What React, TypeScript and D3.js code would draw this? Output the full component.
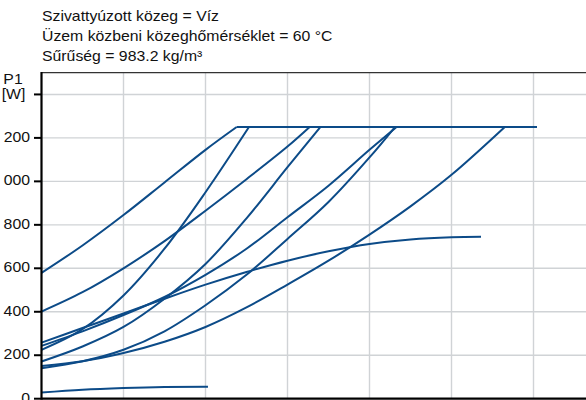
import React from "react";
import * as d3 from "d3";

// ---- chart values ----
const titleLines = [
  "Szivattyúzott közeg = Víz",
  "Üzem közbeni közeghőmérséklet = 60 °C",
  "Sűrűség = 983.2 kg/m³",
];
const yAxisName = "P1";
const yAxisUnit = "[W]";
const yTickValues = [0, 200, 400, 600, 800, 1000, 1200, 1400];
const yTickLabels = ["0", "200", "400", "600", "800", "1 000", "1 200", ""];
const xGridValues = [0, 1, 2, 3, 4, 5, 6, 7];

const maxPower = 1250;
const capEndQ = 6.04;

const qA = [0, 0.5, 1, 1.5, 2, 2.38];
const pA = [579, 705, 845, 995, 1145, 1250];
const qB = [0, 0.5, 1, 1.5, 2, 2.5, 3, 3.27];
const pB = [401, 490, 600, 725, 865, 1010, 1160, 1250];
const qC = [0, 0.5, 1, 1.5, 2, 2.53];
const pC = [225, 320, 475, 690, 950, 1250];
const qD = [0, 0.5, 1, 1.5, 2, 2.5, 3, 3.4];
const pD = [171, 240, 330, 460, 620, 830, 1065, 1250];
const qE = [0, 0.5, 1, 1.5, 2, 2.5, 3, 3.5, 4, 4.33];
const pE = [243, 310, 385, 468, 570, 690, 835, 980, 1145, 1250];
const qF = [0, 0.5, 1, 1.5, 2, 2.5, 3, 3.5, 4, 4.31];
const pF = [140, 172, 225, 310, 430, 570, 735, 905, 1110, 1250];
const qG = [0, 0.5, 1, 1.5, 2, 2.5, 3, 3.5, 4, 4.5, 5, 5.36];
const pG = [258, 325, 392, 460, 525, 583, 635, 678, 712, 733, 743, 745];
const qH = [0, 0.5, 1, 1.5, 2, 2.5, 3, 3.5, 4, 4.5, 5, 5.65];
const pH = [150, 172, 210, 262, 330, 420, 525, 635, 755, 885, 1030, 1250];
const qI = [0, 0.5, 1, 1.5, 2.03];
const pI = [28, 41, 49, 54, 55];

const curves = [
  [qA, pA], [qB, pB], [qC, pC], [qD, pD], [qE, pE],
  [qF, pF], [qG, pG], [qH, pH], [qI, pI],
];

// ---- layout ----
const W = 586;
const H = 400;
const plotLeft = 41.5;
const plotTop = 72.7;
const plotBottom = 398.7;
const unitPx = 82;
const curveColor = "#0c4b88";
const gridColor = "#d0d3d6";
const fontFamily = "'Liberation Sans', Arial, Helvetica, sans-serif";
const fontSize = 14;
const stretch = 1.13;

export default function App() {
  const x = d3.scaleLinear().domain([0, 7]).range([plotLeft, plotLeft + 7 * unitPx]);
  const y = d3.scaleLinear().domain([0, 1500]).range([plotBottom, plotTop]);

  const rise = d3
    .line<[number, number]>()
    .x((d) => x(d[0]))
    .y((d) => y(d[1]))
    .curve(d3.curveCatmullRom.alpha(0.5));
  const flat = d3
    .line<[number, number]>()
    .x((d) => x(d[0]))
    .y((d) => y(d[1]));

  const paths: React.ReactNode[] = [];
  curves.forEach(([qs, ps], i) => {
    const pts: [number, number][] = qs.map((q, k) => [q, ps[k]]);
    paths.push(
      <path key={"r" + i} d={rise(pts) || ""} fill="none" stroke={curveColor}
        strokeWidth={2} strokeLinejoin="round" />
    );
    const last = pts[pts.length - 1];
    if (last[1] >= maxPower) {
      paths.push(
        <path key={"f" + i} d={flat([last, [capEndQ, maxPower]]) || ""} fill="none"
          stroke={curveColor} strokeWidth={2} />
      );
    }
  });

  const txt = (s: string, tx: number, ty: number, anchor: string, key: string) => (
    <text key={key} transform={`translate(${tx},${ty}) scale(${stretch},1)`}
      textAnchor={anchor} fontFamily={fontFamily} fontSize={fontSize} fill="#111">
      {s}
    </text>
  );

  return (
    <svg width={W} height={H} viewBox={`0 0 ${W} ${H}`}
      style={{ position: "absolute", left: 0, top: 0, background: "#fff" }}>
      <rect x={0} y={0} width={W} height={H} fill="#fff" />
      {/* grid */}
      {xGridValues.slice(1).map((v) => (
        <line key={"gx" + v} x1={x(v)} x2={x(v)} y1={plotTop} y2={plotBottom}
          stroke={gridColor} strokeWidth={1.4} />
      ))}
      {yTickValues.slice(1).map((v) => (
        <line key={"gy" + v} x1={plotLeft} x2={W} y1={y(v)} y2={y(v)}
          stroke={gridColor} strokeWidth={1.4} />
      ))}
      {/* top border */}
      <line x1={plotLeft} x2={W} y1={plotTop} y2={plotTop} stroke="#333" strokeWidth={1.3} />
      {/* curves */}
      {paths}
      {/* axes */}
      <line x1={plotLeft} x2={plotLeft} y1={plotTop - 0.6} y2={plotBottom + 1}
        stroke="#000" strokeWidth={2.2} />
      <line x1={plotLeft} x2={W} y1={plotBottom} y2={plotBottom} stroke="#000" strokeWidth={2.2} />
      {yTickValues.map((v) => (
        <line key={"t" + v} x1={plotLeft - 7.5} x2={plotLeft} y1={y(v)} y2={y(v)}
          stroke="#000" strokeWidth={2} />
      ))}
      {yTickValues.map((v, i) =>
        yTickLabels[i] ? txt(yTickLabels[i], 30, y(v) + 4, "end", "l" + v) : null
      )}
      {txt(yAxisName, 13, 84, "middle", "yn")}
      {txt(yAxisUnit, 13.5, 99, "middle", "yu")}
      {titleLines.map((s, i) => txt(s, 42, 20.5 + i * 20.3, "start", "tt" + i))}
    </svg>
  );
}
